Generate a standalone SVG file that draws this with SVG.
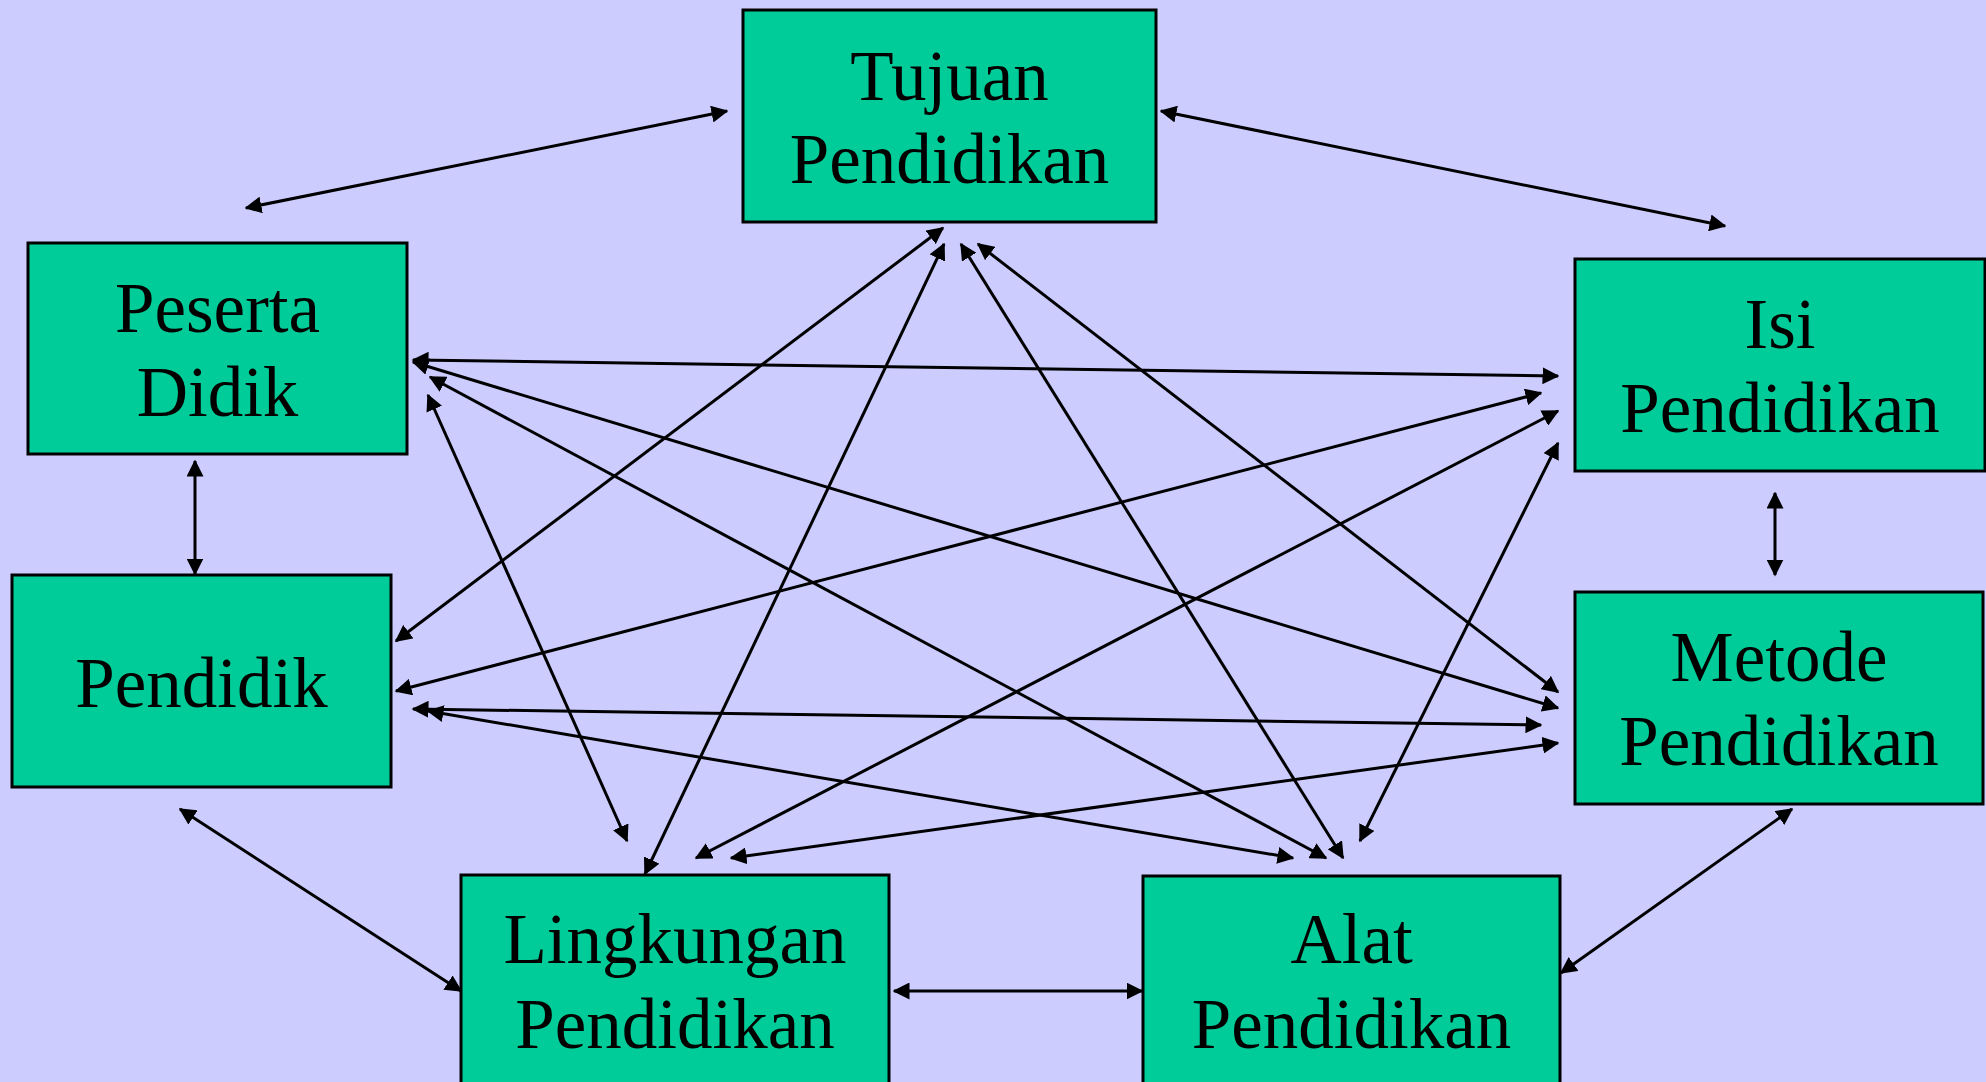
<svg xmlns="http://www.w3.org/2000/svg" width="1986" height="1082" viewBox="0 0 1986 1082">
<style>
.box{fill:#00CC99;stroke:#000;stroke-width:3}
.lbl{font-family:"Liberation Serif","Times New Roman",serif;font-size:71px;fill:#000;text-anchor:middle}
.c{stroke:#000;stroke-width:3;fill:none;marker-start:url(#ah);marker-end:url(#ah)}
</style>
<defs>
<marker id="ah" markerUnits="userSpaceOnUse" markerWidth="17" markerHeight="17" viewBox="0 0 17 17" refX="15.5" refY="8.5" orient="auto-start-reverse">
<path d="M0,0 L17,8.5 L0,17 Z" fill="#000"/>
</marker>
</defs>
<rect width="1986" height="1082" fill="#CCCCFF"/>
<g id="connectors">
<line class="c" x1="246" y1="208" x2="727" y2="111"/>
<line class="c" x1="1161" y1="111" x2="1725" y2="226"/>
<line class="c" x1="396" y1="641" x2="943" y2="228"/>
<line class="c" x1="944" y1="244" x2="645" y2="874"/>
<line class="c" x1="961" y1="244" x2="1343" y2="858"/>
<line class="c" x1="978" y1="244" x2="1558" y2="692"/>
<line class="c" x1="413" y1="360" x2="1558" y2="376"/>
<line class="c" x1="413" y1="362" x2="1558" y2="708"/>
<line class="c" x1="430" y1="377" x2="1326" y2="858"/>
<line class="c" x1="428" y1="395" x2="627" y2="841"/>
<line class="c" x1="195" y1="461" x2="195" y2="574"/>
<line class="c" x1="396" y1="691" x2="1541" y2="393"/>
<line class="c" x1="413" y1="709" x2="1541" y2="725"/>
<line class="c" x1="428" y1="711" x2="1293" y2="858"/>
<line class="c" x1="180" y1="809" x2="461" y2="991"/>
<line class="c" x1="696" y1="858" x2="1558" y2="411"/>
<line class="c" x1="1360" y1="841" x2="1558" y2="443"/>
<line class="c" x1="1775" y1="493" x2="1775" y2="575"/>
<line class="c" x1="731" y1="858" x2="1558" y2="743"/>
<line class="c" x1="1561" y1="973" x2="1792" y2="809"/>
<line class="c" x1="894" y1="991" x2="1142" y2="991"/>
</g>
<g id="tujuan">
<rect class="box" x="743" y="10" width="413" height="212"/>
<text class="lbl" x="949.5" y="100">Tujuan</text>
<text class="lbl" x="949.5" y="183">Pendidikan</text>
</g>
<g id="peserta">
<rect class="box" x="28" y="243" width="379" height="211"/>
<text class="lbl" x="217.5" y="332">Peserta</text>
<text class="lbl" x="217.5" y="416">Didik</text>
</g>
<g id="isi">
<rect class="box" x="1575" y="259" width="410" height="212"/>
<text class="lbl" x="1780" y="348">Isi</text>
<text class="lbl" x="1780" y="432">Pendidikan</text>
</g>
<g id="pendidik">
<rect class="box" x="12" y="575" width="379" height="212"/>
<text class="lbl" x="201.5" y="707">Pendidik</text>
</g>
<g id="metode">
<rect class="box" x="1575" y="592" width="408" height="212"/>
<text class="lbl" x="1779" y="681">Metode</text>
<text class="lbl" x="1779" y="765">Pendidikan</text>
</g>
<g id="lingkungan">
<rect class="box" x="461" y="875" width="428" height="215"/>
<text class="lbl" x="675" y="963">Lingkungan</text>
<text class="lbl" x="675" y="1048">Pendidikan</text>
</g>
<g id="alat">
<rect class="box" x="1143" y="876" width="417" height="214"/>
<text class="lbl" x="1351.5" y="963">Alat</text>
<text class="lbl" x="1351.5" y="1048">Pendidikan</text>
</g>
</svg>
